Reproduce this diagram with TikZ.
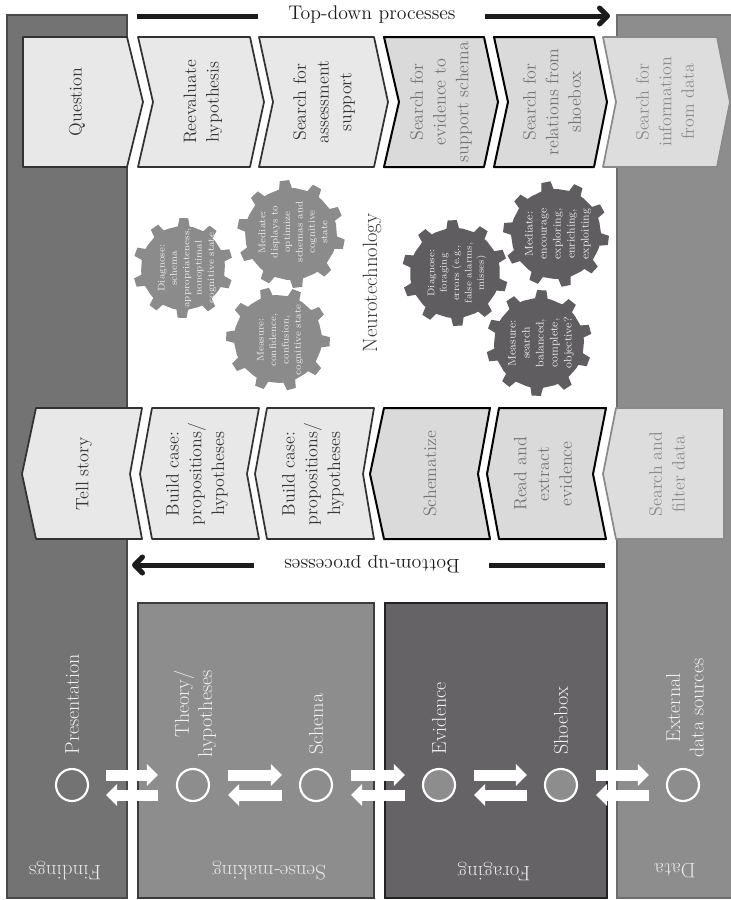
\documentclass[tikz,border=0pt]{standalone}
\usetikzlibrary{arrows.meta,calc}

\tikzset{every picture/.style={line width=0.75pt}}
\tikzset{
  findband/.style={fill={rgb,255:red,115;green,115;blue,115}, draw={rgb,255:red,72;green,72;blue,72}, line width=1.2pt},
  databand/.style={fill={rgb,255:red,142;green,141;blue,142}, draw={rgb,255:red,110;green,110;blue,110}, line width=1.2pt},
  senseband/.style={fill={rgb,255:red,142;green,141;blue,142}, draw={rgb,255:red,60;green,60;blue,60}, line width=1.2pt},
  forageband/.style={fill={rgb,255:red,101;green,99;blue,101}, draw={rgb,255:red,35;green,35;blue,35}, line width=1.2pt},
  chevdark/.style={fill={rgb,255:red,232;green,232;blue,232}, draw={rgb,255:red,50;green,50;blue,50}, line width=1.3pt, line join=round},
  chevmid/.style={fill={rgb,255:red,218;green,218;blue,218}, draw=black, line width=1.5pt, line join=round},
  chevpale/.style={fill={rgb,255:red,221;green,221;blue,221}, draw={rgb,255:red,138;green,138;blue,138}, line width=1.3pt, line join=round},
  chevtext/.style={rotate=90, align=center, inner sep=0.75pt, font=\fontsize{13.5}{17}\selectfont},
  inkdark/.style={text={rgb,255:red,55;green,55;blue,55}},
  inkmid/.style={text={rgb,255:red,118;green,118;blue,118}},
  inkpale/.style={text={rgb,255:red,140;green,140;blue,140}},
  procline/.style={draw={rgb,255:red,28;green,28;blue,28}, line width=3.75pt},
  proctext/.style={inner sep=0.75pt, font=\fontsize{14.8}{17}\selectfont, text={rgb,255:red,30;green,30;blue,30}},
  gearlight/.style={fill={rgb,255:red,140;green,139;blue,140}},
  geardark/.style={fill={rgb,255:red,95;green,93;blue,95}},
  geartext/.style={rotate=90, align=center, inner sep=0.75pt, text={rgb,255:red,238;green,238;blue,238}, font=\fontsize{7.3}{9.3}\selectfont},
  gearbig/.style={font=\fontsize{8.3}{10.5}\selectfont},
  stagecirc/.style={circle, draw=white, line width=1.6pt, minimum size=24pt, inner sep=0pt},
  stagelabel/.style={rotate=90, anchor=west, align=center, inner sep=0.75pt, text={rgb,255:red,242;green,242;blue,242}, font=\fontsize{15}{17.5}\selectfont},
  bandlabel/.style={rotate=180, inner sep=0.75pt, text={rgb,255:red,232;green,232;blue,232}, font=\fontsize{15.7}{17}\selectfont},
  flowarrow/.style={draw=white, line width=8.25pt, -{Triangle[length=8.25pt,width=15.75pt]}},
  pics/gear/.style n args={3}{code={
    \fill[#3] (0:#1) \foreach \t in {0,36,...,324}{ -- (\t+5:#1) -- (\t+8:#1+#2) -- (\t+18:#1+#2) -- (\t+21:#1) -- (\t+36:#1)} -- cycle;
  }},
}

\begin{document}
\begin{tikzpicture}[x=0.75pt,y=0.75pt,yscale=-1,xscale=1]
\useasboundingbox (0,0) rectangle (731,900);
\fill[white] (0,0) rectangle (731,900);

%Shape: Rectangle [Findings band]
\draw[findband] (7,15) rectangle (127,898);
%Shape: Rectangle [Data band]
\draw[databand] (617,15) rectangle (740,898);
%Shape: Rectangle [Sense-making box]
\draw[senseband] (138,603) rectangle (374,898);
%Shape: Rectangle [Foraging box]
\draw[forageband] (385,603) rectangle (607,898);

%Shape: Chevrons top row
\draw[chevdark] (23,37) -- (127,37) -- (143,102) -- (127,167) -- (23,167) -- cycle ;
\draw[chevdark] (138,37) -- (250,37) -- (264,102) -- (250,167) -- (138,167) -- (153,102) -- cycle ;
\draw[chevdark] (259,37) -- (374,37) -- (388,102) -- (374,167) -- (259,167) -- (273,102) -- cycle ;
\draw[chevmid] (384,37) -- (484,37) -- (498,102) -- (484,167) -- (384,167) -- (399,102) -- cycle ;
\draw[chevmid] (494,37) -- (594,37) -- (607,102) -- (594,167) -- (494,167) -- (508,102) -- cycle ;
\draw[chevpale] (603,37) -- (717,37) -- (730,102) -- (717,167) -- (603,167) -- (616,102) -- cycle ;

%Shape: Chevrons bottom row
\draw[chevdark] (36,408) -- (142,408) -- (130,474) -- (142,539) -- (36,539) -- (22,474) -- cycle ;
\draw[chevdark] (152,408) -- (259,408) -- (247,474) -- (259,539) -- (152,539) -- (140,474) -- cycle ;
\draw[chevdark] (267,408) -- (374,408) -- (363,474) -- (374,539) -- (267,539) -- (255,474) -- cycle ;
\draw[chevmid] (384,408) -- (490,408) -- (478,474) -- (490,539) -- (384,539) -- (370,474) -- cycle ;
\draw[chevmid] (499,408) -- (606,408) -- (593,474) -- (606,539) -- (499,539) -- (487,474) -- cycle ;
\draw[chevpale] (616,408) -- (724,408) -- (724,539) -- (616,539) -- (603,474) -- cycle ;

% Text Node
\node[chevtext,inkdark] (quest) at (77,102) {Question};
% Text Node
\node[chevtext,inkdark] (reeval) at (203,102) {Reevaluate\\hypothesis};
% Text Node
\node[chevtext,inkdark] (sassess) at (324,102) {Search for\\assessment\\support};
% Text Node
\node[chevtext,inkmid] (sevid) at (441,102) {Search for\\evidence to\\support schema};
% Text Node
\node[chevtext,inkmid] (srel) at (552,102) {Search for\\relations from\\shoebox};
% Text Node
\node[chevtext,inkpale] (sinfo) at (665,102) {Search for\\information\\from data};

% Text Node
\node[chevtext,inkdark] (tell) at (84,474) {Tell story};
% Text Node
\node[chevtext,inkdark] (build1) at (197,474) {Build case:\\propositions/\\hypotheses};
% Text Node
\node[chevtext,inkdark] (build2) at (313,474) {Build case:\\propositions/\\hypotheses};
% Text Node
\node[chevtext,inkmid] (schz) at (430,474) {Schematize};
% Text Node
\node[chevtext,inkmid] (readx) at (543,474) {Read and\\extract\\evidence};
% Text Node
\node[chevtext,inkpale] (sfilter) at (667,474) {Search and\\filter data};

%Straight Lines [top-down]
\node[proctext] (topdown) at (372,15) {Top-down processes};
\coordinate (tdstart) at (137,16);
\coordinate (tdend) at (610,16);
\draw[procline] (tdstart) -- ($(topdown.west)+(-29,1)$);
\draw[procline,-{Straight Barb[length=6pt,width=12pt,round]}] ($(topdown.east)+(28,1)$) -- (tdend);

%Straight Lines [bottom-up] (text turned over: its west is on the right)
\node[proctext,rotate=180] (bottomup) at (372,564) {Bottom-up processes};
\coordinate (bustart) at (605,565);
\coordinate (buend) at (132,565);
\draw[procline] (bustart) -- ($(bottomup.west)+(28,1)$);
\draw[procline,-{Straight Barb[length=6pt,width=12pt,round]}] ($(bottomup.east)+(-29,1)$) -- (buend);

%Shape: Gears
\pic[rotate=4] at (183,268) {gear={42}{8}{gearlight}};
\pic[rotate=12] at (291,234) {gear={46}{8}{gearlight}};
\pic[rotate=20] at (278,339) {gear={44}{8}{gearlight}};
\pic[rotate=8] at (455,273) {gear={45}{8}{geardark}};
\pic[rotate=16] at (556,234) {gear={45}{8}{geardark}};
\pic[rotate=2] at (539,343) {gear={45}{8}{geardark}};

% Text Node
\node[geartext] (gdiagS) at (187,268) {Diagnose:\\schema\\appropriateness,\\nonoptimal\\cognitive state};
% Text Node
\node[geartext] (gmedS) at (293,232) {Mediate:\\displays to\\optimize\\schemas and\\cognitive\\state};
% Text Node
\node[geartext] (gmeasS) at (280,340) {Measure:\\confidence,\\confusion,\\cognitive state};
% Text Node
\node[geartext] (gdiagF) at (457,273) {Diagnose:\\foraging\\errors (e.g.,\\false alarms,\\misses)};
% Text Node
\node[geartext,gearbig] (gmedF) at (558,234) {Mediate:\\encourage\\exploring,\\enriching,\\exploiting};
% Text Node
\node[geartext,gearbig] (gmeasF) at (541,343) {Measure:\\search\\balanced,\\complete,\\objective?};
% Text Node
\node[rotate=90, inner sep=0.75pt, font=\fontsize{15.5}{18}\selectfont, text={rgb,255:red,55;green,55;blue,55}] (neuro) at (372,283) {Neurotechnology};

%Shape: Circles
\node[stagecirc, fill={rgb,255:red,115;green,115;blue,115}] (pres) at (72,785) {};
\node[stagecirc, fill={rgb,255:red,142;green,141;blue,142}] (theo) at (193,785) {};
\node[stagecirc, fill={rgb,255:red,142;green,141;blue,142}] (schm) at (316,785) {};
\node[stagecirc, fill={rgb,255:red,142;green,141;blue,142}] (evid) at (439,785) {};
\node[stagecirc, fill={rgb,255:red,142;green,141;blue,142}] (shoe) at (561,785) {};
\node[stagecirc, fill={rgb,255:red,142;green,141;blue,142}] (extd) at (683,785) {};

% Text Node
\node[stagelabel] (presl) at ($(pres.north)+(0,-12)$) {Presentation};
% Text Node
\node[stagelabel, align=right] (theol) at ($(theo.north)+(2,-9)$) {Theory/\\hypotheses};
% Text Node
\node[stagelabel] (schml) at ($(schm.north)+(0,-12)$) {Schema};
% Text Node
\node[stagelabel] (evidl) at ($(evid.north)+(0,-12)$) {Evidence};
% Text Node
\node[stagelabel] (shoel) at ($(shoe.north)+(0,-12)$) {Shoebox};
% Text Node
\node[stagelabel] (extdl) at ($(extd.north)+(2,-9)$) {External\\data sources};

%Straight Lines [double arrows]
\draw[flowarrow] ($(pres.east)+(17,-10)$) -- ($(theo.west)+(-18,-10)$);
\draw[flowarrow] ($(theo.west)+(-18,10)$) -- ($(pres.east)+(17,10)$);
\draw[flowarrow] ($(theo.east)+(18,-10)$) -- ($(schm.west)+(-17,-10)$);
\draw[flowarrow] ($(schm.west)+(-17,10)$) -- ($(theo.east)+(18,10)$);
\draw[flowarrow] ($(schm.east)+(18,-10)$) -- ($(evid.west)+(-17,-10)$);
\draw[flowarrow] ($(evid.west)+(-17,10)$) -- ($(schm.east)+(18,10)$);
\draw[flowarrow] ($(evid.east)+(18,-10)$) -- ($(shoe.west)+(-17,-10)$);
\draw[flowarrow] ($(shoe.west)+(-17,10)$) -- ($(evid.east)+(18,10)$);
\draw[flowarrow] ($(shoe.east)+(18,-10)$) -- ($(extd.west)+(-17,-10)$);
\draw[flowarrow] ($(extd.west)+(-17,10)$) -- ($(shoe.east)+(18,10)$);

% Text Node
\node[bandlabel] (findl) at (65,871) {Findings};
% Text Node
\node[bandlabel] (sensel) at (269,871) {Sense-making};
% Text Node
\node[bandlabel] (foragel) at (494,871) {Foraging};
% Text Node
\node[bandlabel] (datal) at (675,871) {Data};

\end{tikzpicture}
\end{document}
